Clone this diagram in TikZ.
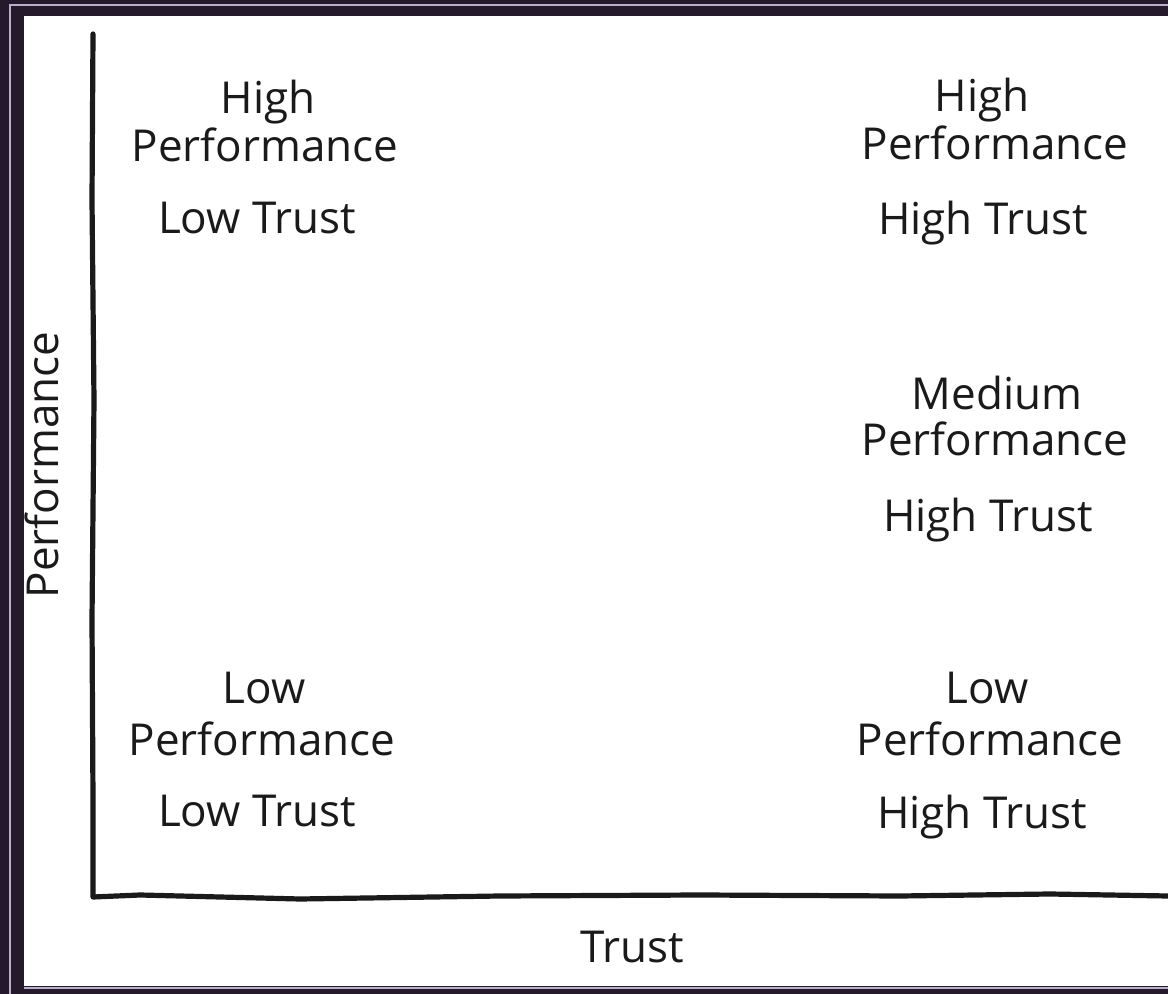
\documentclass[tikz,border=0pt]{standalone}
\usepackage{fontspec}
\setmainfont{Open Sans}
\definecolor{framedark}{HTML}{241A2C}
\definecolor{framelight}{HTML}{B8B0C8}
\definecolor{ink}{HTML}{1A1A1A}
\begin{document}
\begin{tikzpicture}[x=0.5pt,y=-0.5pt,
  lbl/.style={font=\fontsize{22}{26}\selectfont, text=ink, inner sep=0pt, anchor=base},
  axis/.style={draw=ink, line width=2.6pt, line cap=round, line join=round}]
\useasboundingbox (0,0) rectangle (1168,994);
\fill[framedark] (0,0) rectangle (1168,994);
\draw[framelight, line width=1pt] (10,994) -- (10,5) -- (1168,5);
\draw[framelight, line width=1pt] (24,987.5) -- (1168,987.5);
\fill[white] (24,16) rectangle (1168,986);
% axes
\coordinate (top) at (93,34);
\coordinate (origin) at (93,897);
\coordinate (right) at (1168,896);
\draw[axis] (top) -- (92,200) -- (94,400) -- (92,620) -- (93,800) -- (origin)
  -- (140,895) -- (300,899) -- (500,896) -- (700,895) -- (900,896) -- (1050,894) -- (right);
% axis labels
\node[lbl, rotate=90] (perf) at (58,465) {Performance};
\node[lbl] (trust) at (632,962) {Trust};
% top left
\node[lbl] (tlA) at (268,114) {High};
\node[lbl] (tlB) at (265,162) {Performance};
\node[lbl] (tlC) at (257,234) {Low Trust};
% top right
\node[lbl] (trA) at (982,112) {High};
\node[lbl] (trB) at (995,160) {Performance};
\node[lbl] (trC) at (983,235) {High Trust};
% middle right
\node[lbl] (mrA) at (997,410) {Medium};
\node[lbl] (mrB) at (995,456) {Performance};
\node[lbl] (mrC) at (988,531) {High Trust};
% bottom left
\node[lbl] (blA) at (264,704) {Low};
\node[lbl] (blB) at (262,755) {Performance};
\node[lbl] (blC) at (257,826) {Low Trust};
% bottom right
\node[lbl] (brA) at (987,704) {Low};
\node[lbl] (brB) at (990,755) {Performance};
\node[lbl] (brC) at (982,828) {High Trust};
\end{tikzpicture}
\end{document}
